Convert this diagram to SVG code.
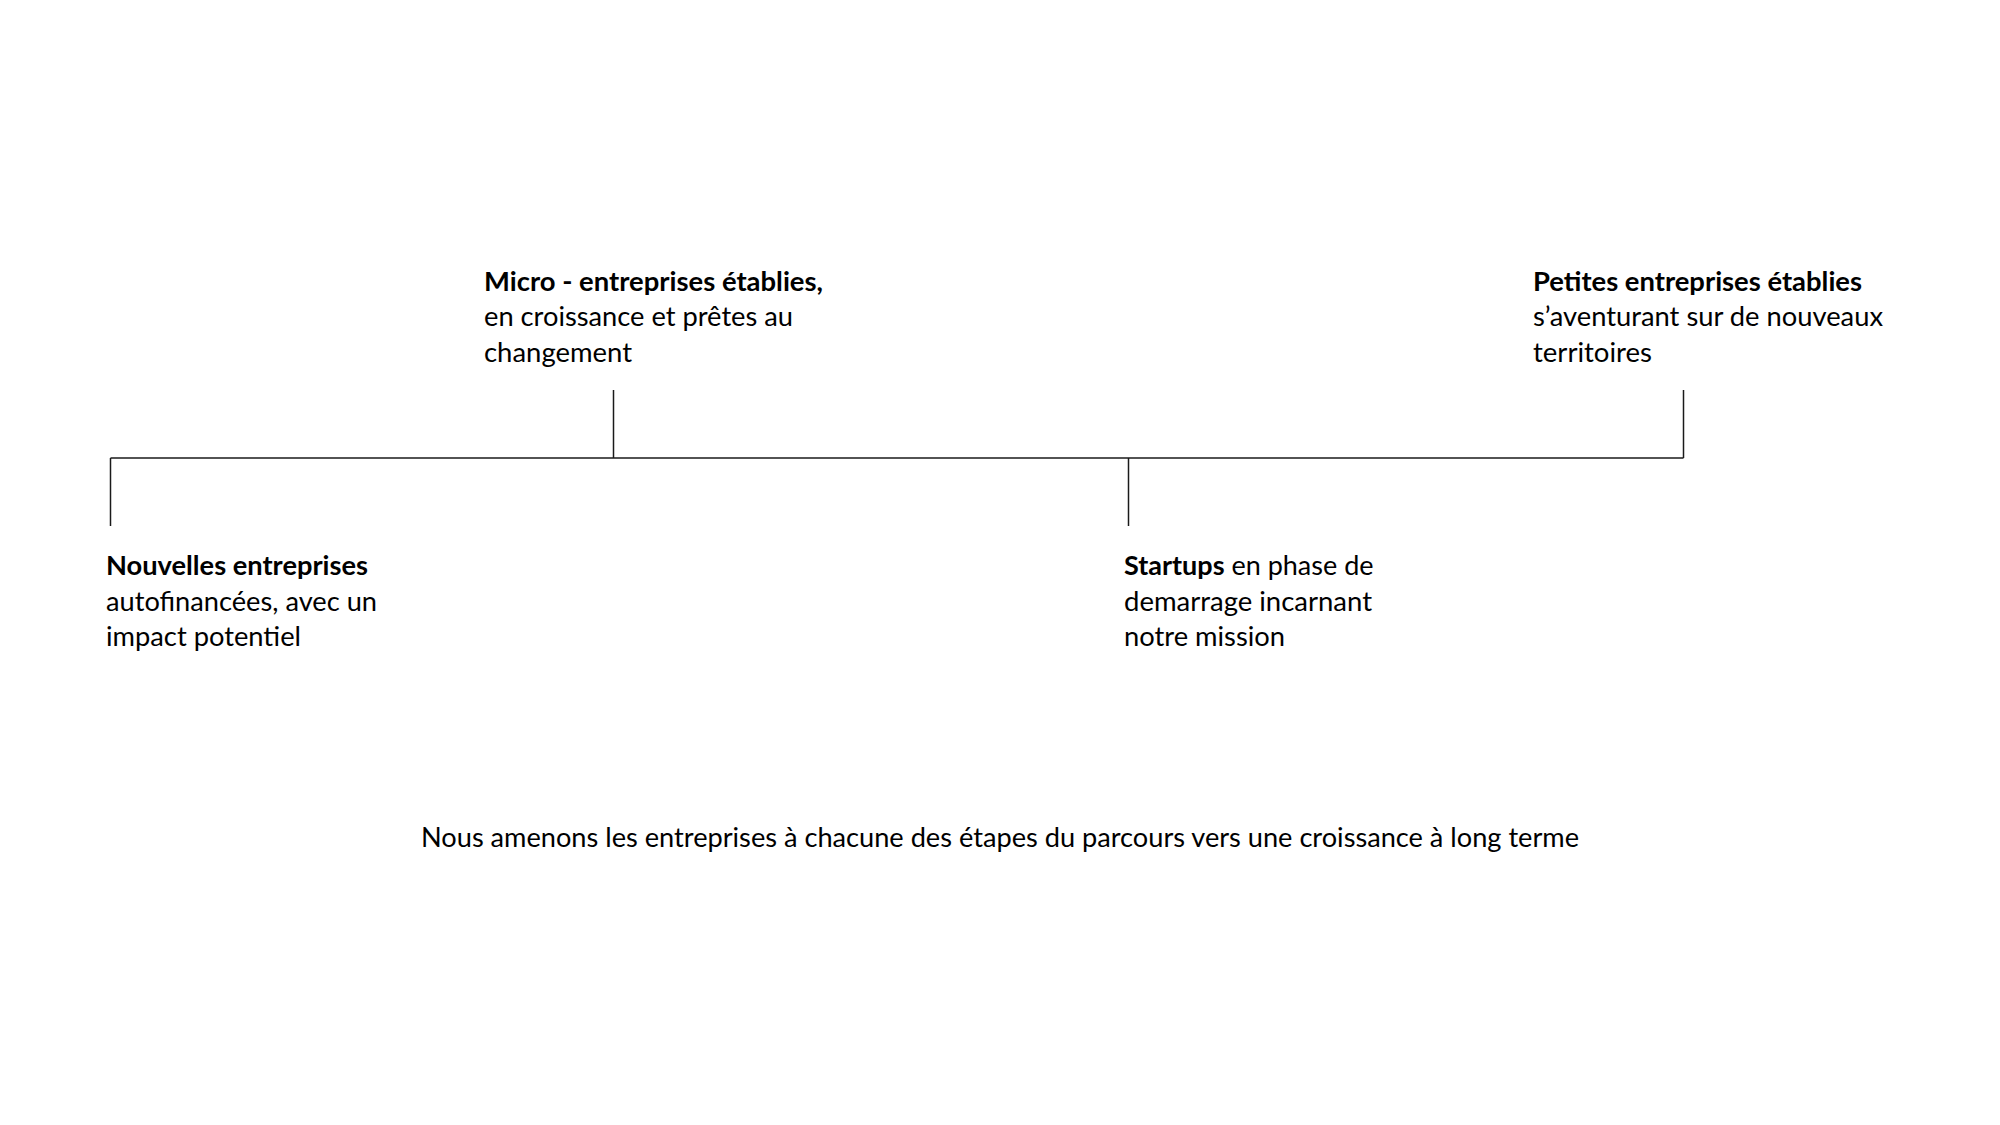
<svg xmlns="http://www.w3.org/2000/svg" width="2000" height="1125" viewBox="0 0 2000 1125">
<style>
text{font-family:Lato,"Open Sans","Liberation Sans",sans-serif;font-size:27px;fill:#000}
.b{font-weight:bold}
.ln{stroke:#1a1a1a;stroke-width:1.5;fill:none}
</style>
<rect width="2000" height="1125" fill="#fff"/>
<g id="connectors">
<path class="ln" d="M110.5 458 H1683.5"/>
<path class="ln" d="M110.5 458 V526"/>
<path class="ln" d="M613.5 390 V458"/>
<path class="ln" d="M1128.5 458 V526"/>
<path class="ln" d="M1683.5 390 V458"/>
</g>
<g id="node-micro">
<text x="484" y="290.5" class="b" textLength="339" lengthAdjust="spacingAndGlyphs">Micro - entreprises établies,</text>
<text x="484" y="326.2" textLength="309" lengthAdjust="spacingAndGlyphs">en croissance et prêtes au</text>
<text x="484" y="362" textLength="148" lengthAdjust="spacingAndGlyphs">changement</text>
</g>
<g id="node-petites">
<text x="1533" y="290.5" class="b" textLength="329" lengthAdjust="spacingAndGlyphs">Petites entreprises établies</text>
<text x="1533" y="326.2" textLength="350" lengthAdjust="spacingAndGlyphs">s’aventurant sur de nouveaux</text>
<text x="1533" y="362" textLength="119" lengthAdjust="spacingAndGlyphs">territoires</text>
</g>
<g id="node-nouvelles">
<text x="106" y="574.8" class="b" textLength="262" lengthAdjust="spacingAndGlyphs">Nouvelles entreprises</text>
<text x="106" y="610.5" textLength="271" lengthAdjust="spacingAndGlyphs">autofinancées, avec un</text>
<text x="106" y="646.2" textLength="195" lengthAdjust="spacingAndGlyphs">impact potentiel</text>
</g>
<g id="node-startups">
<text x="1124" y="574.8"><tspan class="b">Startups</tspan> en phase de</text>
<text x="1124" y="610.5" textLength="248" lengthAdjust="spacingAndGlyphs">demarrage incarnant</text>
<text x="1124" y="646.2" textLength="161" lengthAdjust="spacingAndGlyphs">notre mission</text>
</g>
<g id="caption">
<text x="421" y="847" textLength="1158" lengthAdjust="spacingAndGlyphs">Nous amenons les entreprises à chacune des étapes du parcours vers une croissance à long terme</text>
</g>
</svg>
